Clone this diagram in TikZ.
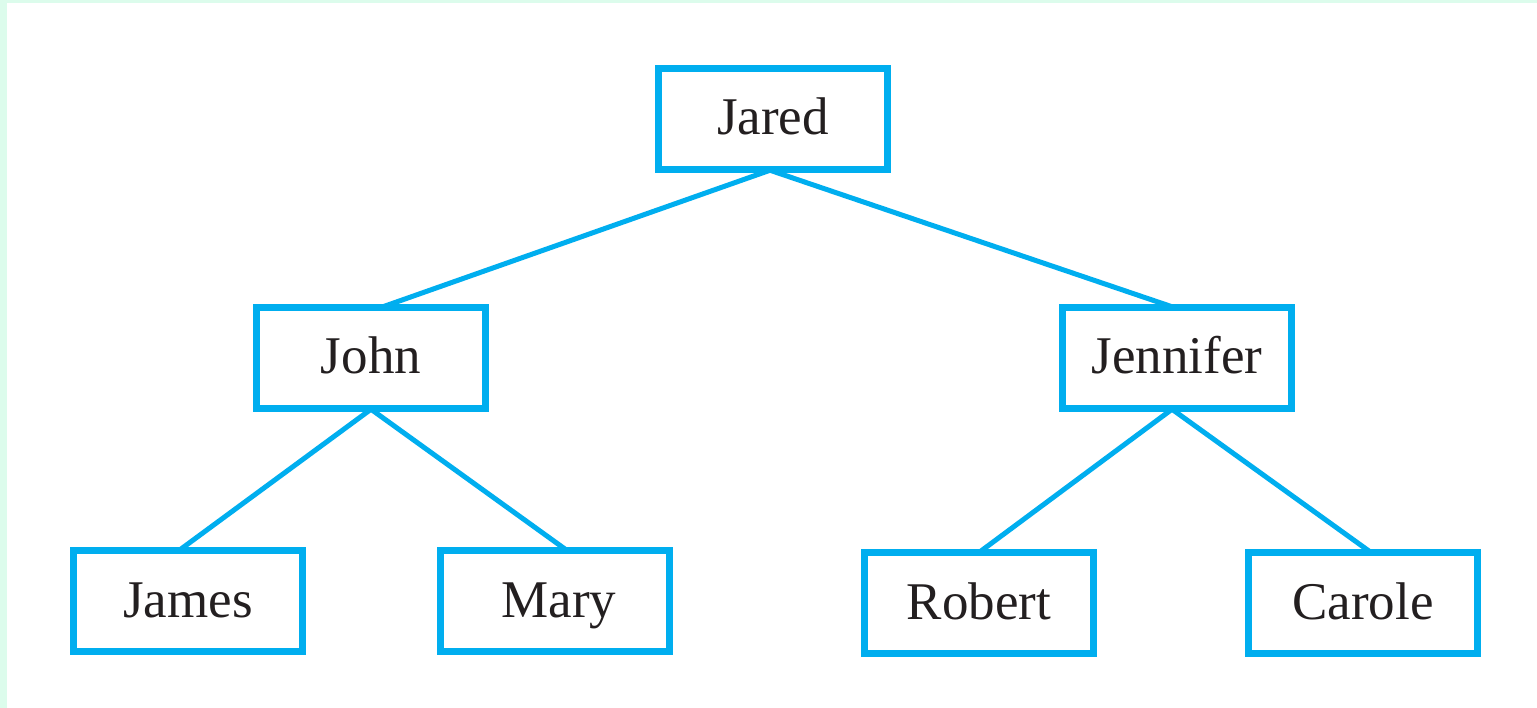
\documentclass[tikz,border=0pt]{standalone}
\usepackage{fontspec}
\setmainfont{Liberation Serif}
\definecolor{treeblue}{HTML}{00AEEF}
\definecolor{mint}{HTML}{DCFCEC}
\definecolor{inkgray}{HTML}{231F20}
\begin{document}
\begin{tikzpicture}[x=1pt,y=-1pt,
  person/.style={draw=treeblue, line width=7.5pt, fill=white,
    minimum width=229pt, minimum height=101pt, inner sep=0pt,
    text height=39pt, text depth=7pt,
    font=\fontsize{53}{60}\selectfont, text=inkgray},
  link/.style={draw=treeblue, line width=5pt}]
  % page frame: mint strip on the top and left edges
  \fill[mint] (0,0) rectangle (1537,708);
  \fill[white] (7,3) rectangle (1537,708);
  \useasboundingbox (0,0) rectangle (1537,708);

  % family tree
  \node[person] (jared)    at (773,119) {Jared};
  \node[person] (john)     at (371,358) {John};
  \node[person] (jennifer) at (1177,358) {Jennifer};
  \node[person] (james)    at (188,601) {James};
  \node[person] (mary)     at (555,601) {\hspace{8pt}Mary};
  \node[person] (robert)   at (979,603) {Robert};
  \node[person] (carole)   at (1363,603) {Carole};

  \draw[link] ([xshift=-3pt,yshift=3pt]jared.south) -- ([xshift=12pt,yshift=-3pt]john.north);
  \draw[link] ([xshift=-3pt,yshift=3pt]jared.south) -- ([xshift=-5pt,yshift=-3pt]jennifer.north);
  \draw[link] ([yshift=3pt]john.south) -- ([xshift=-8pt,yshift=-3pt]james.north);
  \draw[link] ([yshift=3pt]john.south) -- ([xshift=11pt,yshift=-3pt]mary.north);
  \draw[link] ([xshift=-5pt,yshift=3pt]jennifer.south) -- ([xshift=1pt,yshift=-3pt]robert.north);
  \draw[link] ([xshift=-5pt,yshift=3pt]jennifer.south) -- ([xshift=7pt,yshift=-3pt]carole.north);
\end{tikzpicture}
\end{document}
